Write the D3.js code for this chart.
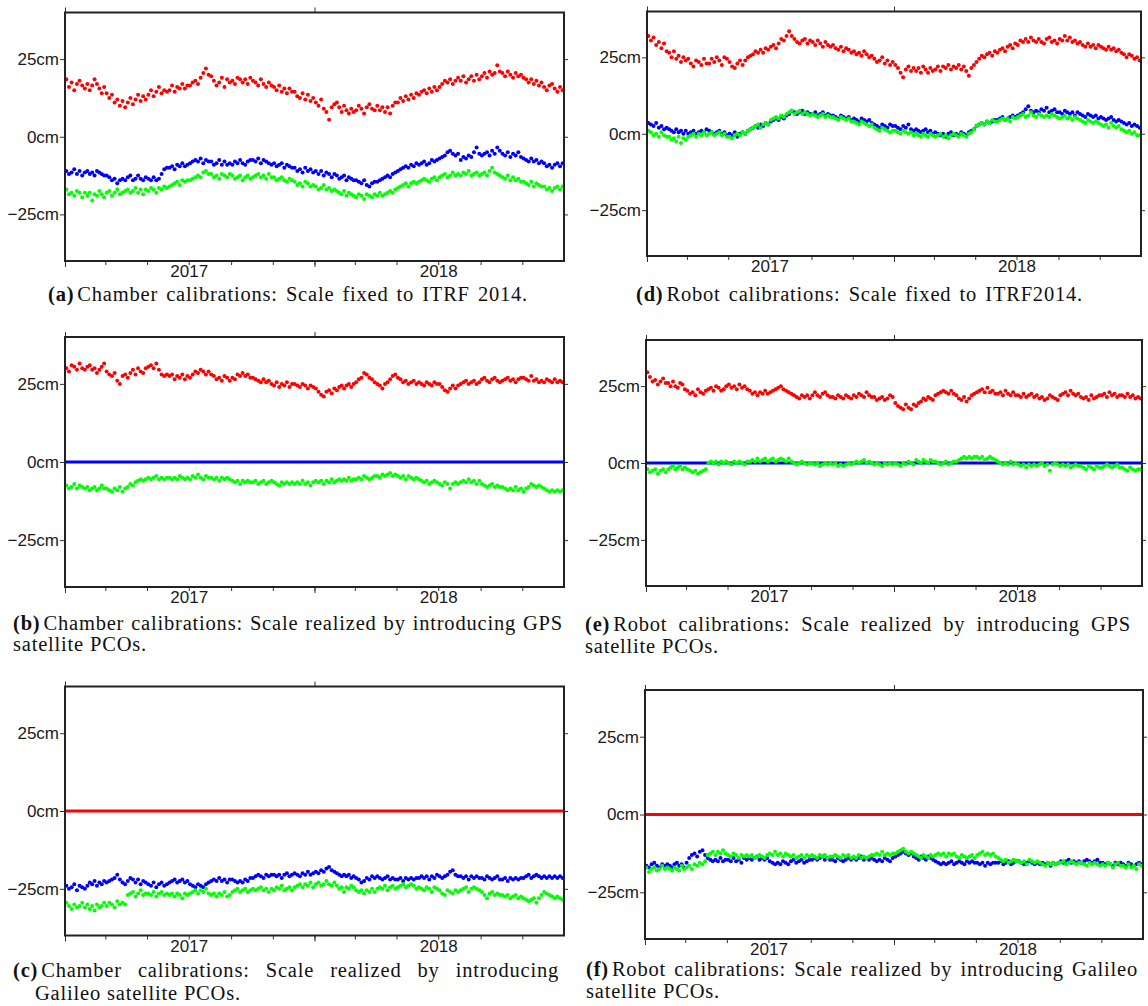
<!DOCTYPE html>
<html>
<head>
<meta charset="utf-8">
<script src="https://cdn.jsdelivr.net/npm/d3@7"></script>
<style>
  body { margin: 0; background: #fff; }
  svg { display: block; }
  .axis text { font-family: "Liberation Sans", Arial, sans-serif; font-size: 17px; fill: #1a1a1a; }
  .axis line { stroke: #333; }
  .axis path { display: none; }
  .caption { font-family: "Liberation Serif", "Times New Roman", serif; font-size: 20.5px; letter-spacing: 0.8px; fill: #111; }
</style>
</head>
<body>
<svg id="fig" width="1148" height="1006"></svg>
<script>
// time axis: Jan 2017 .. Dec 2018, 8 readings per month
var start = new Date(Date.UTC(2017, 0, 1));
var end = new Date(Date.UTC(2019, 0, 1));
var perMonth = 8;
var yDomain = [-40, 40];
var yTicks = [-25, 0, 25];
var yearLabels = [2017, 2018];

// (a) chamber, ITRF2014 scale
var aRed = [
  18.5,16,17.5,15,17,18,16.5,15.5, 17,15,16.5,18.5,17,15.5,14,16,
  14,12.5,13.5,11,12,10,11.5,9.5, 11,12.5,10.5,12,13.5,11.5,13,12,
  13.5,15,13,14.5,16,14,15,14.5, 15,16.5,14.5,16,15.5,17,15.5,16.5,
  16.5,17.5,18,17,19,20.5,22,20, 19.5,18,16.5,17.5,19,16,18.5,17.5,
  18,17,19,18.5,17.5,18.5,17,19, 18,17.5,16.5,18.5,17,16,17.5,16.5,
  16,15,16.5,14.5,15.5,14,15.5,14.5, 14.5,13,12.5,14,12,13.5,11.5,12.5,
  11,10,12,9,8,5.5,9.5,10.5, 11,9.5,8,10,8.5,7.5,9,8,
  8.5,10,9,7.5,9.5,10.5,9,8.5, 10,8.5,9.5,8,9.5,7.5,10,11,
  11,12.5,11.5,13,12,13.5,12.5,14, 13.5,14.5,15,14,15.5,14.5,16,15,
  16,17,18,17.5,18.5,17,18,19, 18,19.5,17.5,18.5,19.5,18,20,18.5,
  19.5,20.5,19,21,20,20.5,23,21, 20.5,19.5,21,20,19,20.5,19.5,20,
  19,18.5,17.5,18.5,17,18,16.5,17.5, 16,15,16.5,17,15.5,14.5,16,15
];
var aBlue = [
  -11,-12,-11.5,-10.5,-12,-11,-12.5,-11.5, -11,-12,-11.5,-12.5,-11,-11.5,-12,-12.5,
  -12.5,-13,-14,-13.5,-15,-14,-13.5,-14, -13,-12.5,-14,-13.5,-12.5,-13.5,-14,-13,
  -13.5,-14,-13,-14,-13.5,-12,-10.5,-10, -10,-9.5,-10.5,-9,-9.5,-8.5,-9.5,-9,
  -8.5,-8,-7.5,-8,-7,-8.5,-7.5,-8, -8,-9,-8.5,-7.5,-9,-8,-9,-8.5,
  -9,-8,-8.5,-7.5,-8.5,-9,-8,-7.5, -7.5,-8,-7,-8.5,-7.5,-8,-8.5,-9,
  -8.5,-9.5,-9,-8.5,-10,-9,-9.5,-10, -10,-11,-10.5,-11.5,-10,-11,-10.5,-11.5,
  -11,-12,-11,-12.5,-11.5,-12,-13,-12, -12.5,-13.5,-13,-12.5,-14,-13,-13.5,-14,
  -14,-14.5,-15,-14,-15.5,-16,-15,-14.5, -14.5,-14,-13.5,-13,-12.5,-13,-12,-11.5,
  -11,-10.5,-10,-9.5,-10,-9,-9.5,-8.5, -9,-8.5,-8,-9,-8.5,-7.5,-8,-7.5,
  -7,-6.5,-6,-5,-4.5,-5.5,-6,-5.5, -7.5,-6.5,-7,-6,-6.5,-5,-3.5,-5.5,
  -6,-5.5,-5,-6,-4.5,-5.5,-3.5,-4.5, -5.5,-6,-5,-6.5,-5.5,-6,-5,-6.5,
  -7,-7.5,-8,-7,-8,-7.5,-8.5,-8, -8.5,-9.5,-9,-10,-9,-8.5,-9.5,-8.5
];
var aGreen = [
  -17,-18.5,-18,-19,-17.5,-18,-19.5,-18, -19,-18,-20.5,-18.5,-19,-17.5,-18.5,-19.5,
  -18,-17.5,-19,-18,-17,-18.5,-18,-17.5, -17,-18,-17.5,-16.5,-18,-17,-18.5,-17,
  -17.5,-16.5,-17,-18,-16.5,-17,-16,-16.5, -16,-15.5,-15,-14.5,-15.5,-14,-14.5,-14,
  -14,-13.5,-13,-12.5,-13,-11.5,-11,-12, -12,-13,-12.5,-13.5,-12,-12.5,-13,-12,
  -12.5,-13.5,-13,-12.5,-14,-13,-12.5,-13.5, -13,-12.5,-12,-13,-12.5,-13.5,-12,-13,
  -13,-14,-13.5,-13,-14,-14.5,-13.5,-14, -14.5,-15.5,-15,-16,-14.5,-15,-16,-15.5,
  -16,-17,-16.5,-15.5,-17,-16.5,-17.5,-17, -17.5,-18,-18.5,-17.5,-19,-18,-18.5,-19,
  -19.5,-18.5,-19,-20,-18.5,-19,-19.5,-18.5, -19,-18,-19,-18.5,-18,-17.5,-18,-17,
  -16.5,-16,-15.5,-15,-16,-15,-14.5,-15, -14.5,-14,-13.5,-14,-14.5,-13.5,-13,-14,
  -13,-12.5,-12,-13,-12.5,-11.5,-12.5,-12, -12.5,-11.5,-12,-11,-12.5,-12,-11.5,-12.5,
  -12,-11.5,-12.5,-11,-10,-11.5,-12,-12.5, -13,-13.5,-12.5,-14,-13,-14,-13.5,-14.5,
  -14.5,-15,-15.5,-14.5,-16,-15,-15.5,-16, -16,-17,-16.5,-17.5,-16.5,-16,-17,-16
];

// (b) chamber, GPS PCO scale (blue is the zero reference)
var bRed = [
  30,29,31,30.5,29.5,31.5,30,29.5, 30.5,31,29.5,30,28.5,29.5,30.5,31.5,
  29,28,27.5,28.5,26,25,27.5,28, 27,28.5,29.5,28,30,29,28.5,30,
  30.5,31,30,31.5,29.5,28,27.5,28, 27.5,28,26.5,27.5,27,28,26.5,27.5,
  27,28,29,28.5,29.5,29,28,29, 28,27.5,26.5,27,26,27.5,27,26,
  27,26.5,28,27.5,28.5,27.5,28,27, 27,26.5,26,25.5,26.5,25.5,26,25,
  24.5,25.5,24,25,24.5,25.5,24,25, 25,24.5,24,25,24.5,23.5,24.5,24,
  23.5,22.5,21.5,21,22.5,23,22,23.5, 23,24,24.5,23.5,24.5,25,24,25,
  25.5,26.5,27,28.5,28,27,26.5,25.5, 25,24.5,23.5,25,25.5,26.5,27.5,28,
  27,26.5,25.5,26,25,25.5,26,25, 25.5,25,24.5,25.5,25,24.5,25.5,25,
  25,24,23,22.5,23.5,24.5,23.5,24.5, 25,25.5,26,25,25.5,26,25,25.5,
  26.5,27,26,25.5,26.5,27,26,25.5, 26,26.5,27,26,26.5,25.5,26.5,27,
  27,26.5,26,27.5,26,26.5,25.5,26, 25.5,26.5,26,25.5,26.5,25.5,26,25.5
];
var bGreen = [
  -7.5,-8.5,-8,-7,-8.5,-7.5,-8,-8.5, -8,-9,-8.5,-8,-9,-8.5,-7.5,-8.5,
  -8.5,-9,-9.5,-8.5,-9,-8,-9.5,-8.5, -8,-7,-7.5,-6.5,-6,-5.5,-6,-5.5,
  -5,-5.5,-5,-4.5,-5.5,-5,-5.5,-5, -5,-5.5,-5,-5.5,-4.5,-5,-5.5,-5,
  -5.5,-4.5,-5,-4,-5,-5.5,-4.5,-5, -5,-5.5,-5,-6,-5,-5.5,-5,-5.5,
  -6,-6.5,-6,-7,-6,-6.5,-6,-6.5, -6.5,-6,-7,-6.5,-6,-7,-6.5,-6,
  -6.5,-7,-7.5,-6.5,-7,-6.5,-7,-6.5, -7,-6.5,-7,-6,-7,-6.5,-7.5,-6.5,
  -6,-6.5,-6,-7,-6,-6.5,-5.5,-6.5, -6,-5.5,-6,-5.5,-6,-5,-6,-5.5,
  -5.5,-5,-5.5,-4.5,-5,-5.5,-5,-4.5, -4.5,-5,-4,-4.5,-4,-3.5,-4.5,-4,
  -4.5,-5,-4.5,-5.5,-4.5,-5,-5.5,-5, -5.5,-6,-6.5,-6,-7,-6.5,-6,-6.5,
  -7,-7.5,-6.5,-7,-8.5,-7,-6.5,-7, -6.5,-6,-6.5,-5.5,-6.5,-6,-7,-6,
  -7,-7.5,-8,-7.5,-7,-8,-7.5,-8, -8,-8.5,-9,-8.5,-9,-8,-9,-8.5,
  -9.5,-8.5,-8,-7,-7.5,-8,-7.5,-8, -8.5,-9,-9.5,-9,-9.5,-9,-9.5,-9
];

// (c) chamber, Galileo PCO scale (red is the zero reference)
var cBlue = [
  -24,-25,-24.5,-23.5,-25.5,-24,-24.5,-25, -24,-23,-23.5,-22.5,-24,-23,-23.5,-22.5,
  -23,-22.5,-22,-21.5,-20.5,-22,-23,-23.5, -22.5,-21.5,-22,-23,-22,-23.5,-22.5,-23,
  -23.5,-24,-23,-24.5,-23.5,-23,-24,-23.5, -23,-22.5,-22,-23,-22.5,-22,-23,-22.5,
  -23.5,-24,-24.5,-23.5,-24,-24.5,-23.5,-23, -22.5,-22,-22.5,-21.5,-22.5,-22,-23,-22,
  -22,-22.5,-23,-22.5,-23,-22,-22.5,-21.5, -21.5,-21,-20.5,-21,-21.5,-20.5,-21,-20.5,
  -20.5,-21,-20.5,-21.5,-20.5,-20,-21,-20.5, -20,-20.5,-21,-20,-20.5,-19.5,-20.5,-20,
  -19.5,-20,-19,-19.5,-18.5,-18,-19,-19.5, -20,-20.5,-21,-20.5,-21,-20.5,-21.5,-21,
  -21.5,-22,-23,-22.5,-21.5,-22,-21,-21.5, -21,-21.5,-22,-21.5,-21,-22,-21.5,-22,
  -22,-21.5,-22.5,-21.5,-22,-21.5,-22,-21.5, -21.5,-21,-21.5,-21,-22,-21,-21.5,-20.5,
  -21,-21.5,-21,-20.5,-19.5,-19,-20.5,-21, -21,-21.5,-21,-22,-21,-21.5,-21,-21.5,
  -21.5,-22,-21,-21.5,-22,-21.5,-21,-22, -22,-21.5,-22.5,-21.5,-22,-21.5,-22,-21.5,
  -21.5,-21,-20.5,-21.5,-21,-20.5,-21,-21.5, -21,-21.5,-21,-21.5,-21,-21.5,-21,-21.5
];
var cGreen = [
  -29.5,-30.5,-31.5,-30,-31,-30.5,-29.5,-31, -30,-31.5,-30.5,-32,-30,-31,-30.5,-29.5,
  -30.5,-29.5,-30,-31,-29,-30,-29.5,-30, -27,-26.5,-26,-27.5,-26.5,-25.5,-27,-26.5,
  -26.5,-27,-26,-27.5,-26.5,-26,-27,-26.5, -27,-26.5,-27.5,-26.5,-27,-28,-26.5,-27,
  -26.5,-26,-25.5,-26.5,-25.5,-26,-25,-26.5, -27,-26.5,-27.5,-26.5,-27,-26,-27.5,-27,
  -26,-25.5,-25,-26,-25.5,-25,-26,-25.5, -25,-25.5,-25,-24.5,-25.5,-25,-26,-25,
  -25.5,-24.5,-25,-24,-25.5,-25,-24.5,-25.5, -24.5,-24,-23.5,-24.5,-23.5,-24,-23,-24.5,
  -23.5,-23,-24,-23.5,-22.5,-23.5,-24,-23, -24,-25,-24.5,-26,-24.5,-25,-24,-24.5,
  -25.5,-26,-25.5,-26.5,-25.5,-26,-25,-26, -25,-24.5,-25,-24,-25.5,-24.5,-24,-25,
  -24.5,-24,-23.5,-24.5,-24,-23.5,-24,-25, -24.5,-25,-25.5,-24.5,-25,-26,-24.5,-25,
  -25.5,-26.5,-27,-25.5,-26,-26.5,-25.5,-26, -25.5,-25,-24.5,-26,-25,-24.5,-25,-25.5,
  -26,-27,-28,-26.5,-26,-27,-26.5,-27, -27,-27.5,-27,-28,-27.5,-27,-28,-27.5,
  -28,-28.5,-29,-28.5,-28,-29.5,-28,-27, -26,-26.5,-27,-27.5,-28,-27.5,-28,-28.5
];

// (d) robot, ITRF2014 scale
var dRed = [
  32,30.5,31.5,29,30,28,29.5,27, 26.5,25,27,24.5,25.5,23.5,25,24,
  24.5,23,22,24,23.5,22.5,24.5,23, 23,24.5,23.5,25,24,22.5,25,24.5,
  23.5,22,21.5,23,24,22.5,24,25, 25.5,26,27,26.5,27.5,26.5,28,27.5,
  28.5,29,28,29.5,31,30.5,32,33.5, 32,31,30,29.5,30.5,31,29.5,30.5,
  30,29,30.5,29.5,28.5,30,29,28.5, 29,28,27.5,28.5,27,28,27.5,26.5,
  27,26,26.5,25.5,27,26,25,25.5, 24.5,23.5,24,25,23,24,22.5,23.5,
  22.5,21.5,20,18.5,21,22,20.5,21.5, 20.5,21.5,20,22,21,20,21.5,20.5,
  21,22,20.5,22,21.5,22.5,21,22, 21.5,22.5,21,22,20.5,19,21.5,22.5,
  23.5,24.5,25.5,25,26,26.5,25.5,27, 26.5,27.5,28,27,28.5,29,28,29.5,
  29,30.5,30,31,30,31.5,30.5,30, 31,30,29.5,31,31.5,30,30.5,29.5,
  31,30.5,32,30.5,31.5,30,30.5,29.5, 30,29,28.5,29.5,28.5,29,28,29,
  28.5,28,27.5,28.5,27.5,28,27,27.5, 26.5,26,25,26,25.5,24.5,25,24
];
var dBlue = [
  3.5,3,2.5,3.5,2,2.5,1.5,2, 1.5,1,0.5,1.5,0.5,1,0,1,
  0,0.5,1,0,0.5,1,0.5,1.5, 1,0.5,0,0.5,1,0,0.5,-0.5,
  0,-0.5,0.5,-1,0,0.5,0,1, 1.5,2,2.5,2,3,2.5,3.5,3,
  4,4.5,5,4.5,5.5,5,6,6.5, 7.5,7,6.5,7,7.5,6.5,7,6.5,
  6.5,7,6,6.5,7,6,6.5,6, 6,5.5,5,6,5.5,5,5.5,4.5,
  5,4.5,4,5,4.5,4,4.5,3.5, 3,2.5,2,3,2.5,2,3,2.5,
  2.5,2,1.5,2.5,2,3,1.5,1, 1.5,1,0.5,1,1.5,0.5,1,0,
  0.5,0,-0.5,0,-1,0,0.5,-0.5, 0,-0.5,0.5,0,-0.5,0.5,1,1.5,
  2.5,3,3.5,3,4,3.5,4,4.5, 4.5,5,5.5,4.5,5,5.5,6,5.5,
  6,6.5,7,8,9,7.5,7,7.5, 7,8,7.5,8.5,7,7.5,8,7,
  7,6.5,7.5,7,6.5,7,6,7, 6.5,6,5.5,6.5,6,5.5,6,5,
  5.5,5,4.5,5,5.5,4.5,4,4.5, 4,3.5,3,3.5,2.5,3,2.5,2
];
var dGreen = [
  1,0.5,-0.5,0,-1,0.5,-0.5,-1, -1,-2,-1.5,-2.5,-1,-3,-1.5,-2,
  -1,-0.5,0,-1,0,-0.5,0.5,-0.5, 0,0.5,-0.5,0,0.5,-0.5,0,-1,
  -1,-1.5,-0.5,0,-0.5,0.5,0,1, 1.5,2,2.5,3,2,3,3.5,3,
  4.5,5,5.5,5,6,5.5,6.5,7, 7.5,6.5,7,7.5,6.5,7,6.5,6,
  6.5,6,5.5,6,6.5,5.5,6,5.5, 5.5,5,4.5,5.5,5,4.5,5,4,
  4,3.5,3,4,3.5,3,2.5,3, 2,1.5,1,2,1.5,1,0.5,1,
  1,0.5,0,1,0.5,0,0.5,-0.5, 0,-0.5,-1,0,-0.5,-1,0,-0.5,
  -1,-0.5,0,-1,-0.5,-1.5,-0.5,0, -0.5,-1,0,-0.5,-1,0,0.5,1.5,
  2.5,3,3.5,3,4,3.5,4.5,4, 4,4.5,5,4.5,5,4,5.5,5,
  5.5,6,6.5,5.5,6,7,6,5.5, 6.5,6,5.5,6,5.5,6.5,6,5.5,
  5,5.5,6,5,5.5,4.5,5.5,5, 4.5,4,3.5,4.5,4,3.5,4,3.5,
  3,2.5,3,2,3.5,2.5,2,2.5, 1.5,1,0.5,1,0,0.5,-0.5,-0.5
];

// (e) robot, GPS PCO scale (blue is the zero reference)
var eRed = [
  29.5,28,26.5,27,25.5,26.5,27.5,26, 26,25,26.5,25,24.5,26,25.5,24,
  23.5,22.5,23,22,24,23,22.5,23.5, 24,24.5,23.5,25,24.5,23.5,24,25,
  25.5,24.5,25,24,25.5,24.5,25,24, 23.5,22.5,23,22,23,22.5,23.5,22.5,
  23,23.5,24,24.5,25,24,23.5,23, 22.5,22,21.5,21,22,21.5,22,21,
  22,23,22,21.5,22.5,23,22,21.5, 21.5,21,22,21.5,21,22,21.5,21,
  22,21.5,22.5,22,21.5,23,22,21.5, 21.5,20.5,21,21.5,20.5,21,22,21.5,
  19.5,18.5,18,17.5,19,18,17.5,19, 18.5,19.5,20,21,20.5,21.5,21,20.5,
  22,22.5,23,23.5,23,22.5,23.5,22.5, 22,21,20.5,21.5,20,21,22,22.5,
  23,23.5,24,23,24.5,23,23.5,22.5, 22.5,23,22,23.5,22.5,22,23,22,
  22,21.5,22.5,21.5,22,22.5,21.5,22, 21,21.5,20.5,21,22,21.5,21,20.5,
  22,22.5,23,22,23.5,22.5,22,22.5, 21.5,21,21.5,20.5,22,21,21.5,22,
  22,22.5,21.5,23,22,22.5,21.5,22, 22,21.5,22.5,21.5,22,21,21.5,21
];
var eGreen = [
  -2,-3,-2.5,-2,-3.5,-2.5,-2,-3, -2,-1.5,-1,-2,-1.5,-1,-2,-1.5,
  -2,-2.5,-3,-2.5,-3.5,-3,-2.5,-2, 0,0.5,0,0.5,-0.5,0.5,0,0.5,
  0,-0.5,0.5,0,0.5,0,-0.5,0.5, 0.5,1,0.5,1.5,0.5,1,1.5,0.5,
  1,1.5,0.5,1,1.5,1,0.5,1.5, 0.5,0,-0.5,0,0.5,0,-0.5,0,
  0,-0.5,0,-1,-0.5,0,-0.5,0, -0.5,0,-1,-0.5,-1,-0.5,0,-0.5,
  0,0.5,0,0.5,1,0,0.5,0, -0.5,0,-0.5,-1,0,-0.5,0,-0.5,
  0,-0.5,-1,0,-0.5,0.5,0,-0.5, 1,0.5,0,1,0.5,0,1,0.5,
  0.5,0,-0.5,0,0.5,-0.5,0,0.5, 0.5,1,1.5,2,1.5,2,1.5,2,
  2,1.5,2,1,1.5,2,1.5,1, 0.5,0,-0.5,0,-0.5,0.5,-0.5,0,
  -0.5,-1,-0.5,-1.5,-0.5,-1,-0.5,-1, -0.5,0,-1,-0.5,-2.5,-0.5,0,-0.5,
  -1,-0.5,-1,-0.5,-1.5,-1,-0.5,-1, -1,-1.5,-2,-1,-1.5,-2,-1,-1.5,
  -1.5,-1,-0.5,-1,-1.5,-1,-0.5,-1.5, -1.5,-2,-2.5,-1.5,-2,-2.5,-2,-2
];

// (f) robot, Galileo PCO scale (red is the zero reference)
var fBlue = [
  -16.5,-17,-16,-15.5,-16.5,-17,-16,-16.5, -16,-16.5,-17,-16,-15.5,-16.5,-16,-17,
  -15.5,-14,-13,-12.5,-13.5,-12,-11.5,-13, -14,-14.5,-15,-14.5,-15,-14,-15,-14.5,
  -14.5,-15,-14,-15,-14.5,-15.5,-14,-14.5, -14,-14.5,-14,-13.5,-14.5,-14,-14.5,-14,
  -15,-15.5,-16,-15.5,-16,-15,-15.5,-16, -15,-14.5,-15.5,-15,-14.5,-15.5,-15,-14.5,
  -14.5,-14,-14.5,-14,-13.5,-14.5,-14,-14.5, -14.5,-15,-14,-14.5,-15,-14.5,-14,-14.5,
  -14,-14.5,-14,-13.5,-14.5,-14,-14.5,-14, -14.5,-15,-14.5,-15,-14,-14.5,-15,-14,
  -13.5,-13,-12.5,-12,-12.5,-13,-12.5,-13.5, -14,-14.5,-13.5,-14,-14.5,-13.5,-14,-14.5,
  -15,-15.5,-16,-15.5,-16,-15.5,-15,-16, -15.5,-15,-15.5,-16,-15,-15.5,-15,-15.5,
  -15.5,-16,-15.5,-16.5,-15.5,-16,-15.5,-15.5, -15.5,-15,-16,-15.5,-15,-16,-15.5,-15,
  -15,-15.5,-16,-15.5,-15,-15.5,-16,-15.5, -16,-15.5,-16,-15.5,-16.5,-15.5,-16,-15.5,
  -15,-15.5,-15,-14.5,-15.5,-15,-15.5,-15, -15.5,-15,-14.5,-15,-15.5,-15,-14.5,-15.5,
  -15.5,-16,-15.5,-16,-16.5,-15.5,-16,-15.5, -16,-16.5,-15.5,-16,-16.5,-16,-15.5,-16
];
var fGreen = [
  -17,-18.5,-17.5,-17,-18,-17.5,-16.5,-17.5, -17,-17.5,-18,-17,-17.5,-18,-16.5,-17.5,
  -17,-16.5,-17.5,-16,-16.5,-15.5,-16,-15, -13,-12.5,-12,-13,-12,-12.5,-11.5,-12.5,
  -13,-13.5,-12.5,-13,-14,-13,-13.5,-13, -13.5,-13,-14,-13.5,-13,-13.5,-14,-13,
  -12.5,-13,-12,-13,-12.5,-13.5,-12.5,-13, -13.5,-13,-14,-13.5,-13,-14,-13,-13.5,
  -13,-13.5,-14,-13,-13.5,-13,-14,-13.5, -13.5,-13,-13.5,-14,-13,-13.5,-13,-14,
  -13.5,-14,-13,-14,-13.5,-14,-13.5,-13, -13,-12.5,-13,-12,-13,-12.5,-13,-12.5,
  -12.5,-12,-11.5,-11,-12,-12.5,-12,-12.5, -13,-13.5,-14,-13,-13.5,-14,-13,-13.5,
  -13,-12.5,-13,-12.5,-13.5,-12.5,-13,-12.5, -13.5,-14,-13,-13.5,-14,-13.5,-13,-14,
  -13,-12.5,-12,-13,-12.5,-13,-12.5,-13.5, -14,-14.5,-15,-14.5,-15.5,-15,-14.5,-15,
  -15,-15.5,-15,-16,-14.5,-15,-15.5,-15, -15.5,-16,-16.5,-15.5,-16,-15.5,-16,-15.5,
  -15.5,-15,-16,-15.5,-15,-15.5,-16,-15.5, -15.5,-16,-16.5,-15.5,-16,-15.5,-16,-16.5,
  -16,-16.5,-15.5,-16,-17,-16,-15.5,-16.5, -16.5,-17,-16,-17,-16.5,-17.5,-16,-16.5
];

var zeroRef = 0;

var red = "#ff0000", blue = "#0000ff", green = "#00ff00";

var panels = [
  { box: [65, 12.5, 499, 248.5], layers: [[aRed, red], [aBlue, blue], [aGreen, green]],
    cap: [["a", "Chamber calibrations: Scale fixed to ITRF 2014.", 48, 528, 301]] },
  { box: [65, 337, 499, 250], layers: [[bRed, red], [zeroRef, blue], [bGreen, green]],
    cap: [["b", "Chamber calibrations: Scale realized by introducing GPS", 13, 563, 630],
          [null, "satellite PCOs.", 13, null, 651]] },
  { box: [65, 686.5, 499, 249], layers: [[zeroRef, red], [cBlue, blue], [cGreen, green]],
    cap: [["c", "Chamber calibrations: Scale realized by introducing", 13, 559, 977],
          [null, "Galileo satellite PCOs.", 35, null, 1000]] },
  { box: [647, 11.5, 494, 244.5], layers: [[dRed, red], [dBlue, blue], [dGreen, green]],
    cap: [["d", "Robot calibrations: Scale fixed to ITRF2014.", 636, 1083, 301]] },
  { box: [646, 340, 496, 246], layers: [[eRed, red], [zeroRef, blue], [eGreen, green]],
    cap: [["e", "Robot calibrations: Scale realized by introducing GPS", 585, 1131, 631],
          [null, "satellite PCOs.", 585, null, 653]] },
  { box: [645, 690, 498, 249], layers: [[zeroRef, red], [fBlue, blue], [fGreen, green]],
    cap: [["f", "Robot calibrations: Scale realized by introducing Galileo", 586, 1138, 976],
          [null, "satellite PCOs.", 586, null, 998]] }
];

var svg = d3.select("#fig");

function dateOf(i) {
  var m0 = d3.utcMonth.offset(start, Math.floor(i / perMonth));
  var m1 = d3.utcMonth.offset(m0, 1);
  return new Date(+m0 + (m1 - m0) * ((i % perMonth) + 0.5) / perMonth);
}

var fmtCm = function(d) { return (d < 0 ? "\u2212" : "") + Math.abs(d) + "cm"; };

panels.forEach(function(p) {
  var bx = p.box[0], by = p.box[1], w = p.box[2], h = p.box[3];
  var x = d3.scaleUtc().domain([start, end]).range([0, w]);
  var y = d3.scaleLinear().domain(yDomain).range([h, 0]);
  var g = svg.append("g").attr("transform", "translate(" + bx + "," + by + ")");

  g.append("defs").append("clipPath").attr("id", "clip" + bx + "_" + by)
    .append("rect").attr("width", w).attr("height", h);
  var plot = g.append("g").attr("clip-path", "url(#clip" + bx + "_" + by + ")");

  p.layers.forEach(function(l) {
    var vals = l[0], col = l[1];
    if (typeof vals === "number") {
      plot.append("line")
        .attr("x1", x(start)).attr("x2", x(end))
        .attr("y1", y(vals)).attr("y2", y(vals))
        .attr("stroke", col).attr("stroke-width", 3.2);
    } else {
      plot.append("g").selectAll("circle").data(vals).enter().append("circle")
        .attr("cx", function(d, i) { return x(dateOf(i)); })
        .attr("cy", function(d) { return y(d); })
        .attr("r", 2)
        .attr("fill", col);
    }
  });

  // axes
  var minor = d3.utcMonth.every(2).range(start, end);
  var majors = [start, new Date(Date.UTC(2018, 0, 1))];
  var mids = yearLabels.map(function(yr) { return new Date(Date.UTC(yr, 6, 1)); });

  g.append("g").attr("class", "axis").attr("transform", "translate(0," + h + ")")
    .call(d3.axisBottom(x).tickValues(minor).tickSize(4).tickFormat(""));
  g.append("g").attr("class", "axis").attr("transform", "translate(0," + h + ")")
    .call(d3.axisBottom(x).tickValues(majors).tickSize(6).tickFormat(""));
  g.append("g").attr("class", "axis")
    .call(d3.axisTop(x).tickValues(majors).tickSize(5).tickFormat(""));
  g.append("g").attr("class", "axis").attr("transform", "translate(0," + h + ")")
    .call(d3.axisBottom(x).tickValues(mids).tickSize(0).tickPadding(4)
      .tickFormat(function(d) { return d.getUTCFullYear(); }));
  g.append("g").attr("class", "axis")
    .call(d3.axisLeft(y).tickValues(yTicks).tickSize(5).tickPadding(1).tickFormat(fmtCm));
  g.append("g").attr("class", "axis").attr("transform", "translate(" + w + ",0)")
    .call(d3.axisRight(y).tickValues(yTicks).tickSize(4).tickFormat(""));

  g.append("rect").attr("width", w).attr("height", h)
    .attr("fill", "none").attr("stroke", "#222").attr("stroke-width", 2);

  // caption lines, justified like the typeset original
  p.cap.forEach(function(c) {
    drawCaptionLine(svg, c[0], c[1].split(" "), c[2], c[3], c[4]);
  });
});

function drawCaptionLine(root, tag, words, x0, x1, yb) {
  var tagGap = 3, spaceW = 6;
  var items = [];
  if (tag) items.push(root.append("text").attr("class", "caption").attr("font-weight", "bold")
    .attr("y", yb).text("(" + tag + ")"));
  words.forEach(function(wd) {
    items.push(root.append("text").attr("class", "caption").attr("y", yb).text(wd));
  });
  var widths = items.map(function(t) { return t.node().getComputedTextLength(); });
  var nGaps = items.length - 1 - (tag ? 1 : 0);
  var gap = spaceW;
  if (x1 != null && nGaps > 0) gap = (x1 - x0 - d3.sum(widths) - (tag ? tagGap : 0)) / nGaps;
  var xx = x0;
  items.forEach(function(t, k) {
    t.attr("x", xx);
    xx += widths[k] + ((tag && k === 0) ? tagGap : gap);
  });
}
</script>
</body>
</html>
